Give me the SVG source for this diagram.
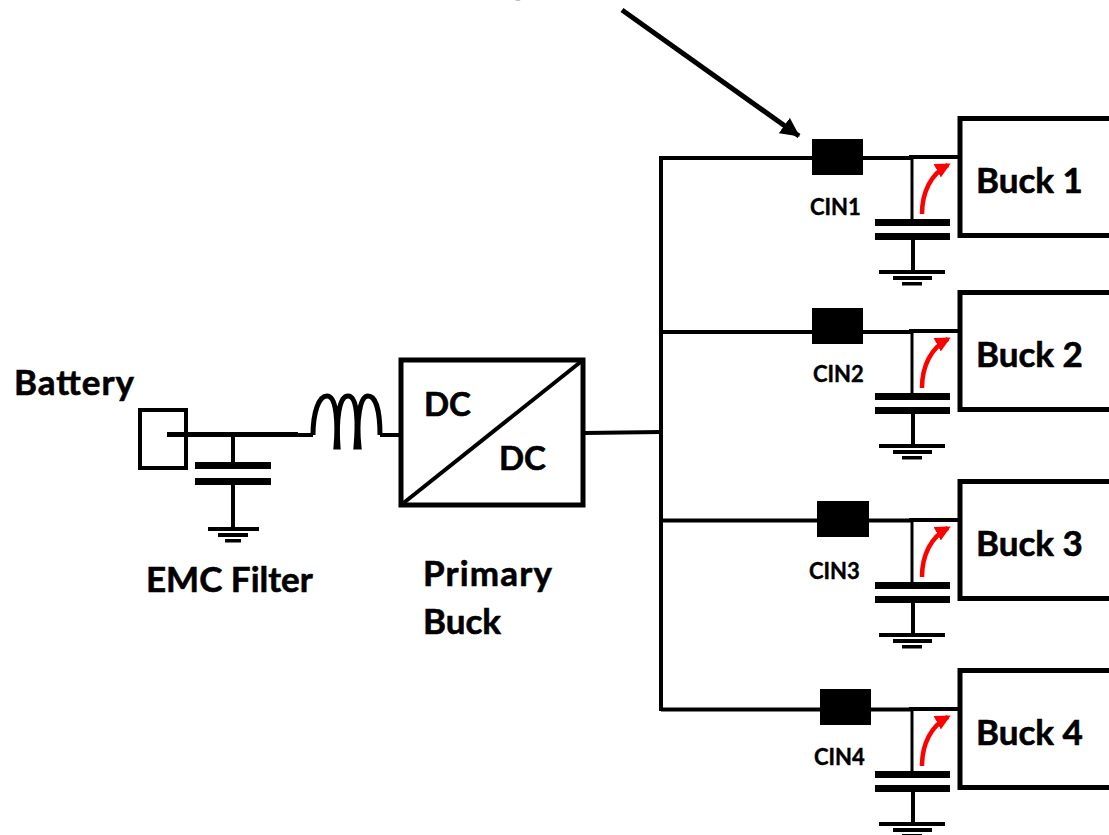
<svg xmlns="http://www.w3.org/2000/svg" xmlns:xlink="http://www.w3.org/1999/xlink" width="1109" height="835" viewBox="0 0 1109 835">
<style>
text{font-family:Lato,"Liberation Sans",sans-serif;font-weight:700;fill:#000;stroke:#000;stroke-width:.6}
.big{font-size:35px}
.dc{font-size:33px}
.small{font-size:22px;stroke-width:.4}
.box{fill:#fff;stroke:#000;stroke-width:5}
.w{fill:none;stroke:#000;stroke-width:4}
.t{fill:none;stroke:#000;stroke-width:5}
.p{fill:#000}
.red{fill:none;stroke:#f00;stroke-width:4.5}
</style>
<defs>
<marker id="ah" viewBox="0 0 10 10" refX="9.500" refY="5" markerWidth="3.800" markerHeight="3.800" orient="auto"><path d="M0 0L10 5L0 10Z" fill="#000"/></marker>
<marker id="ahr" viewBox="0 0 10 10" refX="8" refY="5" markerWidth="3.400" markerHeight="3.400" orient="auto"><path d="M0 0L10 5L0 10Z" fill="#f00"/></marker>
<g id="gnd"><rect x="-34" y="0" width="66" height="4" class="p"/><rect x="-20" y="6" width="39" height="4" class="p"/><rect x="-11" y="12" width="20" height="3.500" class="p"/></g>
<g id="tap">
<path class="w" d="M0 0H49"/>
<path d="M3 0V62" fill="none" stroke="#000" stroke-width="3"/>
<rect x="-34" y="62" width="75" height="7" class="p"/><rect x="-34" y="76" width="75" height="7" class="p"/>
<path class="w" d="M4 83V113"/><use xlink:href="#gnd" x="4" y="113"/>
<path class="red" d="M13 57C13 35 22 17 39 8" marker-end="url(#ahr)"/>
</g>
</defs>
<g id="connectors">
<path class="w" d="M661 156V711"/>
<path class="w" d="M661 158H812M863 158H911M661 332H812M863 332H911M661 520.500H817M869 520.500H911M661 709.500H820M871 709.500H911"/>
<path class="w" d="M584 433L661 432"/>
<path class="t" d="M167 434.500H298"/>
<path class="w" d="M296 435H313M380 435H401"/>
<path class="t" d="M622 10L799 136" marker-end="url(#ah)"/>
<path class="t" d="M313 435C313 412 319 396 327 396C337 396 338 425 336 447H338C336 420 339 396 348 396C358 396 358 425 356 447H359C356 420 360 396 368 396C376 396 380 412 380 435"/>
<text x="512" y="-6" class="big">y</text>
</g>
<g id="battery"><rect x="140" y="410" width="46" height="58" fill="none" stroke="#000" stroke-width="4"/><path class="t" d="M167 434.500H186"/><text x="14" y="395" class="big" textLength="120">Battery</text></g>
<g id="emc-filter"><path class="w" d="M233 434V462M233 485V529"/><rect x="195" y="462" width="76" height="7" class="p"/><rect x="195" y="478" width="76" height="7" class="p"/><rect x="208" y="527" width="51" height="4" class="p"/><rect x="218" y="533" width="30" height="4" class="p"/><rect x="225" y="539" width="16" height="3.500" class="p"/><text x="146" y="592" class="big">EMC Filter</text></g>
<g id="primary-buck"><rect x="401" y="360" width="182" height="145" class="box"/><path class="w" d="M401 505L583 360"/><text x="424" y="416" class="dc">DC</text><text x="499" y="470" class="dc">DC</text><text x="423" y="586" class="big" textLength="129">Primary</text><text x="423" y="634" class="big" textLength="78">Buck</text></g>
<g id="buck1"><rect x="812" y="139" width="51" height="36" class="p"/><text x="810" y="215" class="small">CIN1</text><use xlink:href="#tap" x="909" y="157"/><rect x="960" y="118.500" width="160" height="117" class="box"/><text x="976" y="193" class="big">Buck 1</text></g>
<g id="buck2"><rect x="812" y="308" width="51" height="36" class="p"/><text x="813" y="382" class="small">CIN2</text><use xlink:href="#tap" x="909" y="331"/><rect x="960" y="292.500" width="160" height="117" class="box"/><text x="976" y="367" class="big">Buck 2</text></g>
<g id="buck3"><rect x="817" y="501" width="52" height="36" class="p"/><text x="809" y="579" class="small">CIN3</text><use xlink:href="#tap" x="909" y="520"/><rect x="960" y="481.500" width="160" height="117" class="box"/><text x="976" y="556" class="big">Buck 3</text></g>
<g id="buck4"><rect x="820" y="689" width="51" height="36" class="p"/><text x="814" y="765" class="small">CIN4</text><use xlink:href="#tap" x="909" y="709"/><rect x="960" y="670.500" width="160" height="117" class="box"/><text x="976" y="745" class="big">Buck 4</text></g>
</svg>
